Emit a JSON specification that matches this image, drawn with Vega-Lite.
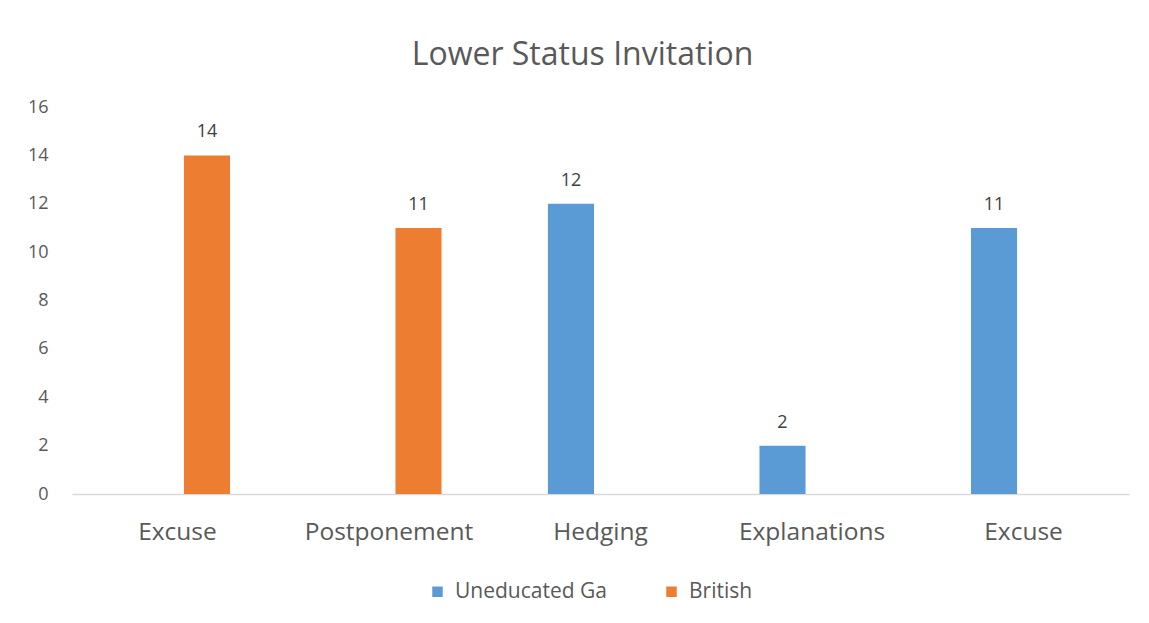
{
  "$schema": "https://vega.github.io/schema/vega-lite/v6.json",
  "autosize": "none",
  "width": 1057,
  "height": 387,
  "padding": {"left": 72, "top": 107, "right": 20, "bottom": 129},
  "background": "white",
  "title": {
    "text": "Lower Status Invitation",
    "font": "Open Sans",
    "fontSize": 32,
    "fontWeight": "normal",
    "color": "#595959",
    "anchor": "middle",
    "offset": 26,
    "dx": -18
  },
  "config": {
    "view": {"stroke": null},
    "font": "Open Sans"
  },
  "data": {
    "values": [
      {"category": "Excuse", "series": "British", "value": 14},
      {"category": "Postponement", "series": "British", "value": 11},
      {"category": "Hedging", "series": "Uneducated Ga", "value": 12},
      {"category": "Explanations", "series": "Uneducated Ga", "value": 2},
      {"category": "Excuse#2", "series": "Uneducated Ga", "value": 11}
    ]
  },
  "encoding": {
    "x": {
      "field": "category",
      "type": "nominal",
      "sort": ["Excuse", "Postponement", "Hedging", "Explanations", "Excuse#2"],
      "scale": {"paddingInner": 0.503, "paddingOuter": 0.25},
      "axis": {
        "title": null,
        "labelAngle": 0,
        "labelExpr": "replace(datum.label, '#2', '')",
        "labelFont": "Open Sans",
        "labelFontSize": 24.5,
        "labelColor": "#595959",
        "labelPadding": 26,
        "ticks": false,
        "domainColor": "#d9d9d9",
        "domainWidth": 1.5,
        "grid": false
      }
    },
    "xOffset": {
      "field": "series",
      "type": "nominal",
      "scale": {"domain": ["Uneducated Ga", "British"], "paddingInner": 0.22, "paddingOuter": 0}
    },
    "y": {
      "field": "value",
      "type": "quantitative",
      "scale": {"domain": [0, 16]},
      "axis": {
        "title": null,
        "values": [0, 2, 4, 6, 8, 10, 12, 14, 16],
        "labelFont": "Open Sans",
        "labelFontSize": 18,
        "labelColor": "#595959",
        "labelPadding": 24,
        "ticks": false,
        "domain": false,
        "grid": false
      }
    }
  },
  "layer": [
    {
      "mark": {"type": "bar"},
      "encoding": {
        "color": {
          "field": "series",
          "type": "nominal",
          "scale": {"domain": ["Uneducated Ga", "British"], "range": ["#5B9BD5", "#ED7D31"]},
          "legend": {
            "title": null,
            "orient": "none",
            "legendX": 355,
            "legendY": 474,
            "direction": "horizontal",
            "symbolType": "square",
            "symbolSize": 110,
            "symbolStrokeWidth": 0,
            "labelFont": "Open Sans",
            "labelFontSize": 21,
            "labelColor": "#595959",
            "labelOffset": 7,
            "columnPadding": 54
          }
        }
      }
    },
    {
      "mark": {"type": "text", "baseline": "bottom", "dy": -14, "font": "Open Sans", "fontSize": 18, "color": "#404040"},
      "encoding": {
        "text": {"field": "value", "type": "quantitative"}
      }
    }
  ]
}
